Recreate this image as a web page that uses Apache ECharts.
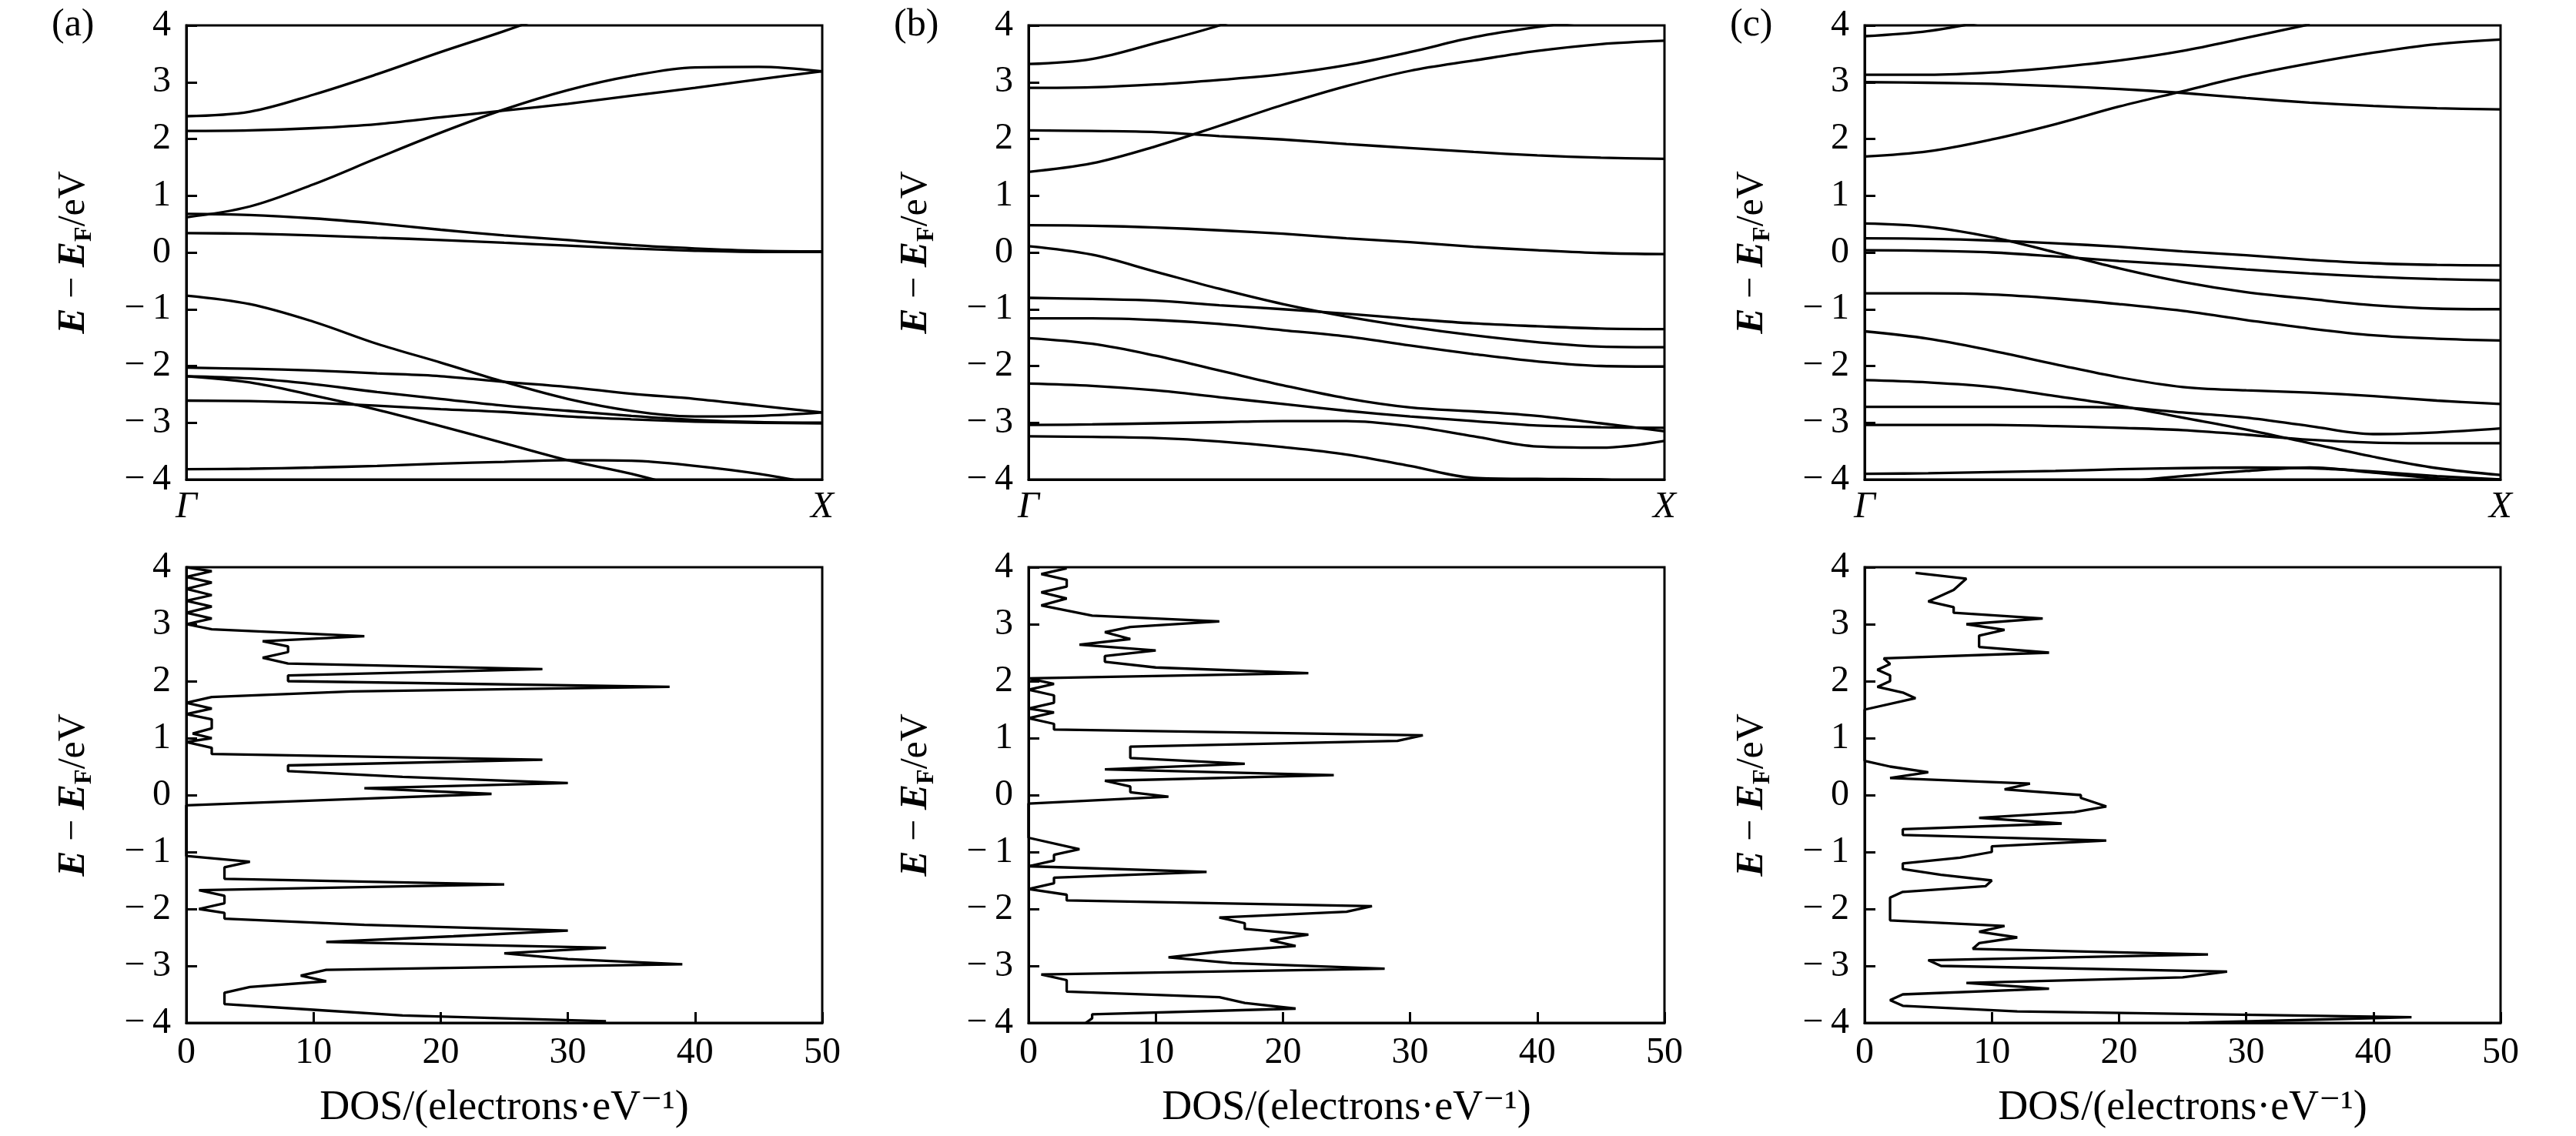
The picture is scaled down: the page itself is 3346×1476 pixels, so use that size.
<!DOCTYPE html>
<html>
<head>
<meta charset="utf-8">
<script src="https://cdn.jsdelivr.net/npm/echarts@6/dist/echarts.min.js"></script>
<style>
  html, body { margin: 0; padding: 0; background: #fff; }
  #main { width: 3346px; height: 1476px; }
</style>
</head>
<body>
<div id="main"></div>
<script>
// k points along the path Γ -> X
var kPath = [0, 0.1, 0.2, 0.3, 0.4, 0.5, 0.6, 0.7, 0.8, 0.9, 1.0];
var kLabels = ['Γ', 'X'];
var panelTags = ['(a)', '(b)', '(c)'];

// band energies (eV) at each k point, null = outside the window
var bandsA = [
  [2.40, 2.48, 2.78, 3.14, 3.53, 3.90, 4.30, null, null, null, null],
  [2.14, 2.15, 2.19, 2.26, 2.38, 2.50, 2.62, 2.76, 2.90, 3.05, 3.19],
  [0.62, 0.81, 1.20, 1.66, 2.11, 2.52, 2.86, 3.11, 3.26, 3.27, 3.19],
  [0.68, 0.66, 0.60, 0.51, 0.40, 0.30, 0.22, 0.13, 0.07, 0.03, 0.02],
  [0.34, 0.33, 0.30, 0.26, 0.22, 0.17, 0.12, 0.07, 0.03, 0.01, 0.01],
  [-0.76, -0.91, -1.22, -1.61, -1.94, -2.28, -2.58, -2.79, -2.89, -2.88, -2.82],
  [-2.03, -2.05, -2.08, -2.13, -2.18, -2.28, -2.37, -2.49, -2.58, -2.70, -2.82],
  [-2.18, -2.22, -2.32, -2.46, -2.58, -2.70, -2.79, -2.88, -2.95, -2.99, -3.00],
  [-2.18, -2.29, -2.52, -2.77, -3.06, -3.36, -3.66, -3.90, -4.20, null, null],
  [-2.61, -2.62, -2.65, -2.70, -2.76, -2.81, -2.89, -2.94, -2.98, -3.00, -3.01],
  [-3.82, -3.81, -3.79, -3.76, -3.72, -3.69, -3.66, -3.67, -3.76, -3.90, -4.10]
];
var bandsB = [
  [3.32, 3.41, 3.69, 4.00, 4.40, null, null, null, null, null, null],
  [2.90, 2.91, 2.96, 3.04, 3.14, 3.30, 3.53, 3.79, 3.97, 4.10, null],
  [1.42, 1.57, 1.87, 2.23, 2.60, 2.93, 3.20, 3.38, 3.55, 3.67, 3.73],
  [2.15, 2.14, 2.12, 2.05, 1.99, 1.91, 1.84, 1.77, 1.71, 1.67, 1.65],
  [0.48, 0.47, 0.44, 0.39, 0.33, 0.25, 0.18, 0.10, 0.04, -0.01, -0.03],
  [0.11, -0.04, -0.34, -0.64, -0.91, -1.13, -1.31, -1.46, -1.58, -1.66, -1.67],
  [-0.80, -0.82, -0.85, -0.93, -1.00, -1.08, -1.17, -1.25, -1.30, -1.34, -1.35],
  [-1.16, -1.16, -1.19, -1.26, -1.37, -1.48, -1.64, -1.79, -1.92, -2.00, -2.01],
  [-1.51, -1.61, -1.82, -2.08, -2.34, -2.57, -2.73, -2.80, -2.88, -3.01, -3.15],
  [-2.31, -2.35, -2.43, -2.55, -2.67, -2.79, -2.89, -2.97, -3.05, -3.08, -3.09],
  [-3.04, -3.03, -3.01, -2.99, -2.97, -2.97, -3.06, -3.24, -3.42, -3.44, -3.32],
  [-3.24, -3.25, -3.27, -3.33, -3.43, -3.56, -3.76, -3.97, -3.99, -4.00, -4.10]
];
var bandsC = [
  [3.81, 3.90, 4.10, null, null, null, null, null, null, null, null],
  [3.13, 3.13, 3.17, 3.26, 3.38, 3.55, 3.78, 4.02, null, null, null],
  [3.00, 2.99, 2.97, 2.93, 2.88, 2.81, 2.72, 2.64, 2.58, 2.54, 2.52],
  [1.69, 1.78, 1.99, 2.26, 2.57, 2.84, 3.11, 3.33, 3.52, 3.67, 3.75],
  [0.51, 0.45, 0.27, 0.00, -0.28, -0.52, -0.70, -0.82, -0.93, -0.99, -1.00],
  [0.25, 0.24, 0.21, 0.16, 0.10, 0.02, -0.05, -0.13, -0.19, -0.22, -0.23],
  [0.04, 0.03, 0.00, -0.07, -0.15, -0.22, -0.30, -0.37, -0.43, -0.47, -0.49],
  [-0.72, -0.72, -0.74, -0.81, -0.91, -1.03, -1.19, -1.34, -1.46, -1.52, -1.55],
  [-1.39, -1.52, -1.73, -1.97, -2.20, -2.37, -2.43, -2.47, -2.53, -2.61, -2.67],
  [-2.25, -2.29, -2.37, -2.53, -2.70, -2.91, -3.12, -3.36, -3.60, -3.80, -3.92],
  [-2.72, -2.72, -2.72, -2.72, -2.73, -2.82, -2.91, -3.06, -3.20, -3.17, -3.10],
  [-3.04, -3.04, -3.04, -3.06, -3.09, -3.13, -3.21, -3.30, -3.35, -3.36, -3.36],
  [-3.90, -3.89, -3.87, -3.85, -3.82, -3.80, -3.79, -3.80, -3.86, -3.94, -4.00],
  [null, null, null, -4.10, -4.04, -3.94, -3.85, -3.79, -3.88, -3.98, -4.05]
];

// density of states: energy (eV) and DOS value (electrons/eV)
var dosEnergyA = [4.00, 3.93, 3.83, 3.73, 3.62, 3.51, 3.41, 3.31, 3.20, 3.10, 3.00, 2.91, 2.79, 2.70, 2.61, 2.51, 2.41, 2.31, 2.21, 2.10, 2.00, 1.90, 1.82, 1.72, 1.62, 1.52, 1.42, 1.33, 1.17, 1.08, 1.00, 0.93, 0.83, 0.72, 0.62, 0.52, 0.42, 0.32, 0.21, 0.12, 0.02, -0.08, -0.18, -1.07, -1.17, -1.27, -1.47, -1.57, -1.67, -1.77, -1.90, -2.00, -2.07, -2.17, -2.28, -2.38, -2.48, -2.58, -2.68, -2.78, -2.88, -2.97, -3.07, -3.17, -3.27, -3.37, -3.47, -3.67, -3.77, -3.87, -3.97];
var dosValueA  = [0, 2, 0, 2, 0, 2, 0, 2, 0, 2, 0, 2, 14, 6, 8, 8, 6, 8, 28, 8, 8, 38, 13, 2, 0, 2, 0, 2, 2, 0.5, 2, 0, 2, 2, 28, 8, 8, 17, 30, 14, 24, 12, 0, 0, 5, 3, 3, 25, 1, 3, 3, 1, 3, 3, 14, 30, 21, 11, 33, 25, 30, 39, 11, 9, 11, 5, 3, 3, 10, 17, 33];
var dosEnergyB = [3.98, 3.88, 3.78, 3.66, 3.56, 3.45, 3.33, 3.15, 3.05, 2.95, 2.86, 2.74, 2.64, 2.54, 2.44, 2.34, 2.24, 2.14, 2.05, 1.95, 1.85, 1.75, 1.62, 1.52, 1.45, 1.35, 1.25, 1.15, 1.05, 0.95, 0.85, 0.65, 0.55, 0.45, 0.35, 0.25, 0.15, 0.05, -0.03, -0.15, -0.75, -0.95, -1.05, -1.15, -1.25, -1.35, -1.45, -1.55, -1.65, -1.75, -1.85, -1.95, -2.05, -2.15, -2.25, -2.35, -2.45, -2.55, -2.65, -2.75, -2.85, -2.95, -3.05, -3.15, -3.25, -3.45, -3.55, -3.65, -3.75, -3.85, -3.92, -4.00];
var dosValueB  = [3, 1, 3, 3, 1, 3, 1, 5, 15, 8, 6, 8, 4, 10, 6, 6, 10, 22, 0, 2, 0, 2, 2, 0, 2, 0, 2, 2, 31, 29, 8, 8, 17, 6, 24, 6, 8, 8, 11, 0, 0, 4, 2, 2, 0, 14, 2, 2, 0, 3, 3, 27, 25, 15, 17, 17, 22, 19, 21, 15, 11, 16, 28, 1, 3, 3, 15, 17, 21, 5, 5, 4.5];
var dosEnergyC = [3.90, 3.80, 3.60, 3.40, 3.30, 3.20, 3.10, 3.00, 2.90, 2.80, 2.60, 2.50, 2.40, 2.30, 2.20, 2.10, 2.00, 1.90, 1.80, 1.70, 1.50, 0.60, 0.50, 0.40, 0.30, 0.20, 0.10, 0.00, -0.05, -0.20, -0.30, -0.40, -0.50, -0.60, -0.70, -0.80, -0.90, -1.00, -1.10, -1.20, -1.30, -1.40, -1.50, -1.60, -1.70, -1.80, -2.20, -2.30, -2.40, -2.50, -2.60, -2.70, -2.80, -2.90, -3.00, -3.10, -3.20, -3.30, -3.40, -3.50, -3.60, -3.70, -3.80, -3.90, -4.00];
var dosValueC  = [4, 8, 7, 5, 7, 7, 14, 8, 11, 9, 9, 14.5, 1.5, 2, 1, 2, 2, 1, 3, 4, 0, 0, 2, 5, 2, 13, 11, 17, 17, 19, 16.5, 9, 15.5, 3, 3, 19, 10, 10, 7.5, 3, 3, 6, 10, 9.5, 3, 2, 2, 11, 9, 12, 9, 8.5, 27, 5, 6, 28.5, 25, 8, 14.5, 3, 2, 3, 12, 43, 25.5];

var bandSets = [bandsA, bandsB, bandsC];
var dosSets = [[dosEnergyA, dosValueA], [dosEnergyB, dosValueB], [dosEnergyC, dosValueC]];

var myChart = echarts.init(document.getElementById('main'), null, { renderer: 'canvas' });

var FONT = "'Liberation Serif', 'DejaVu Serif', serif";
var colLeft = [242, 1336, 2422];
var colWidth = 826;
var rowTop = [33, 737];
var rowHeight = [590, 592];

// tick labels use a real minus sign with a thin gap, like the printed figure
function minus(v) {
  return v < 0 ? '\u2212\u2009' + Math.abs(v) : String(v);
}

var yName = '{e|E}{m| \u2212 }{e|E}{s|F}{n|/eV}';
var yNameStyle = {
  rich: {
    e: { fontFamily: FONT, fontSize: 50, fontStyle: 'italic', fontWeight: 'bold', color: '#000', lineHeight: 60 },
    m: { fontFamily: FONT, fontSize: 50, color: '#000', lineHeight: 60 },
    s: { fontFamily: FONT, fontSize: 32, fontWeight: 'bold', color: '#000', lineHeight: 44, verticalAlign: 'bottom' },
    n: { fontFamily: FONT, fontSize: 50, color: '#000', lineHeight: 60 }
  }
};

var grids = [], xAxes = [], yAxes = [], series = [], graphics = [];

for (var p = 0; p < 3; p++) {
  for (var r = 0; r < 2; r++) {
    var gi = p * 2 + r;
    grids.push({
      left: colLeft[p], top: rowTop[r], width: colWidth, height: rowHeight[r],
      show: true, borderColor: '#000', borderWidth: 3, backgroundColor: 'transparent'
    });
    yAxes.push({
      gridIndex: gi, type: 'value', min: -4, max: 4, interval: 1,
      name: yName, nameLocation: 'middle', nameRotate: 90, nameGap: 116,
      nameTextStyle: yNameStyle,
      axisLine: { show: true, onZero: false, lineStyle: { color: '#000', width: 3 } },
      axisTick: { show: true, inside: true, length: 14, lineStyle: { color: '#000', width: 3 } },
      axisLabel: { margin: 20, fontFamily: FONT, fontSize: 48, color: '#000', formatter: minus },
      splitLine: { show: false }
    });
    if (r === 0) {
      xAxes.push({
        gridIndex: gi, type: 'value', min: 0, max: 1, interval: 1,
        axisLine: { show: true, onZero: false, lineStyle: { color: '#000', width: 3 } },
        axisTick: { show: false },
        axisLabel: {
          margin: 12, fontFamily: FONT, fontSize: 49, fontStyle: 'italic', color: '#000',
          formatter: function (v) { return v === 0 ? kLabels[0] : kLabels[1]; }
        },
        splitLine: { show: false }
      });
    } else {
      xAxes.push({
        gridIndex: gi, type: 'value', min: 0, max: 50, interval: 10,
        name: 'DOS/(electrons\u00b7eV\u207b\u00b9)', nameLocation: 'middle', nameGap: 84,
        nameTextStyle: { fontFamily: FONT, fontSize: 54, color: '#000' },
        axisLine: { show: true, onZero: false, lineStyle: { color: '#000', width: 3 } },
        axisTick: { show: true, inside: true, length: 14, lineStyle: { color: '#000', width: 3 } },
        axisLabel: { margin: 15, fontFamily: FONT, fontSize: 48, color: '#000' },
        splitLine: { show: false }
      });
    }
  }

  // band lines
  bandSets[p].forEach(function (band) {
    series.push({
      type: 'line', xAxisIndex: p * 2, yAxisIndex: p * 2,
      data: kPath.map(function (k, i) { return [k, band[i]]; }),
      smooth: 0.35, showSymbol: false, silent: true,
      lineStyle: { color: '#000', width: 3.3 }
    });
  });

  // DOS curve
  var en = dosSets[p][0], val = dosSets[p][1];
  series.push({
    type: 'line', xAxisIndex: p * 2 + 1, yAxisIndex: p * 2 + 1,
    data: en.map(function (e, i) { return [val[i], e]; }),
    showSymbol: false, silent: true,
    lineStyle: { color: '#000', width: 3.3 }
  });

  graphics.push({
    type: 'text', left: colLeft[p] - 175, top: 8,
    style: { text: panelTags[p], fontFamily: FONT, fontSize: 50, fill: '#000' }
  });
}

var option = {
  backgroundColor: '#fff',
  animation: false,
  grid: grids,
  xAxis: xAxes,
  yAxis: yAxes,
  series: series,
  graphic: graphics
};

myChart.setOption(option);
</script>
</body>
</html>
